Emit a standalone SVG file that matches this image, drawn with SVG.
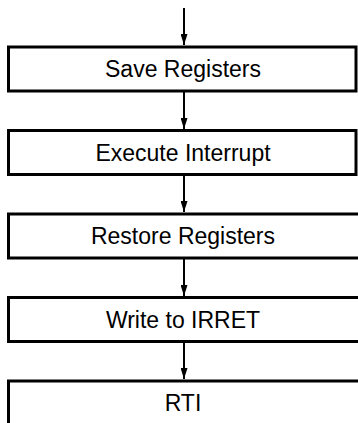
<svg xmlns="http://www.w3.org/2000/svg" width="358" height="423" viewBox="0 0 358 423">
<defs>
<style>
.box{fill:#fff;stroke:#000;stroke-width:3}
.lbl{font-family:"Liberation Sans",Arial,sans-serif;font-size:23px;fill:#000;text-anchor:middle;dominant-baseline:central}
.conn{stroke:#000;stroke-width:2;fill:none}
</style>
<marker id="ah" markerUnits="userSpaceOnUse" markerWidth="11" markerHeight="7" refX="11" refY="3.5" orient="auto" viewBox="0 0 11 7">
<path d="M0,0 L11,3.5 L0,7 z" fill="#000"/>
</marker>
</defs>
<rect width="358" height="423" fill="#fff"/>
<g id="connectors">
<line class="conn" x1="184" y1="8" x2="184" y2="45" marker-end="url(#ah)"/>
<line class="conn" x1="184" y1="92" x2="184" y2="129" marker-end="url(#ah)"/>
<line class="conn" x1="184" y1="175" x2="184" y2="212" marker-end="url(#ah)"/>
<line class="conn" x1="184" y1="259" x2="184" y2="296" marker-end="url(#ah)"/>
<line class="conn" x1="184" y1="342" x2="184" y2="379" marker-end="url(#ah)"/>
</g>
<g id="n1"><rect class="box" x="8.5" y="47" width="347.5" height="44"/><text class="lbl" x="183" y="69">Save Registers</text></g>
<g id="n2"><rect class="box" x="8.5" y="130.5" width="347.5" height="44"/><text class="lbl" x="183" y="152.5">Execute Interrupt</text></g>
<g id="n3"><rect class="box" x="8.5" y="214" width="360" height="44"/><text class="lbl" x="183" y="236">Restore Registers</text></g>
<g id="n4"><rect class="box" x="8.5" y="297.5" width="360" height="44"/><text class="lbl" x="183" y="319.5">Write to IRRET</text></g>
<g id="n5"><rect class="box" x="8.5" y="381" width="360" height="60"/><text class="lbl" x="183" y="403">RTI</text></g>
</svg>
